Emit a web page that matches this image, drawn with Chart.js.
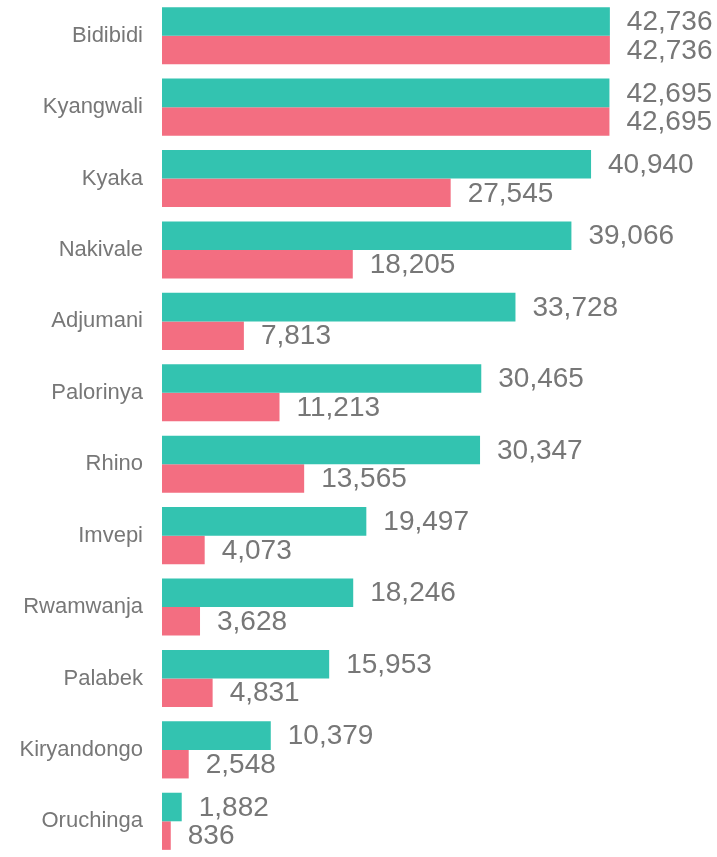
<!DOCTYPE html>
<html>
<head>
<meta charset="utf-8">
<script src="https://cdn.jsdelivr.net/npm/chart.js@4/dist/chart.umd.min.js"></script>
<style>
  html, body { margin: 0; padding: 0; background: #ffffff; }
  #wrap { width: 717px; height: 857px; position: relative; }
</style>
</head>
<body>
<div id="wrap"><canvas id="chart"></canvas></div>
<script>
const settlements = ['Bidibidi', 'Kyangwali', 'Kyaka', 'Nakivale', 'Adjumani', 'Palorinya',
  'Rhino', 'Imvepi', 'Rwamwanja', 'Palabek', 'Kiryandongo', 'Oruchinga'];
const tealValues = [42736, 42695, 40940, 39066, 33728, 30465, 30347, 19497, 18246, 15953, 10379, 1882];
const pinkValues = [42736, 42695, 27545, 18205, 7813, 11213, 13565, 4073, 3628, 4831, 2548, 836];

const textGray = '#777777';

// draws the number to the right of every bar
const valueLabels = {
  id: 'valueLabels',
  afterDatasetsDraw(chart) {
    const ctx = chart.ctx;
    ctx.save();
    ctx.font = '28px "Liberation Sans", Arial, sans-serif';
    ctx.fillStyle = textGray;
    ctx.textAlign = 'left';
    ctx.textBaseline = 'middle';
    chart.data.datasets.forEach((ds, i) => {
      chart.getDatasetMeta(i).data.forEach((bar, j) => {
        ctx.fillText(ds.data[j].toLocaleString('en-US'), bar.x + 17, bar.y + 1);
      });
    });
    ctx.restore();
  }
};

new Chart(document.getElementById('chart'), {
  type: 'bar',
  data: {
    labels: settlements,
    datasets: [
      { data: tealValues, backgroundColor: '#33c3b0', barPercentage: 1.0, categoryPercentage: 0.8 },
      { data: pinkValues, backgroundColor: '#f36e81', barPercentage: 1.0, categoryPercentage: 0.8 }
    ]
  },
  options: {
    indexAxis: 'y',
    responsive: true,
    maintainAspectRatio: false,
    animation: false,
    layout: { autoPadding: false, padding: { top: 0, bottom: 0, left: 0, right: 31 } },
    plugins: {
      legend: { display: false },
      tooltip: { enabled: false }
    },
    scales: {
      x: {
        min: 0,
        max: 50000,
        display: false
      },
      y: {
        grid: { display: false, drawTicks: false },
        border: { display: false },
        ticks: {
          color: textGray,
          padding: 19,
          font: { family: '"Liberation Sans", Arial, sans-serif', size: 22 }
        },
        afterFit(scale) {
          // fixed label column, no extra top/bottom space
          scale.width = 162;
          scale.paddingTop = 0;
          scale.paddingBottom = 0;
        }
      }
    }
  },
  plugins: [valueLabels]
});
</script>
</body>
</html>
